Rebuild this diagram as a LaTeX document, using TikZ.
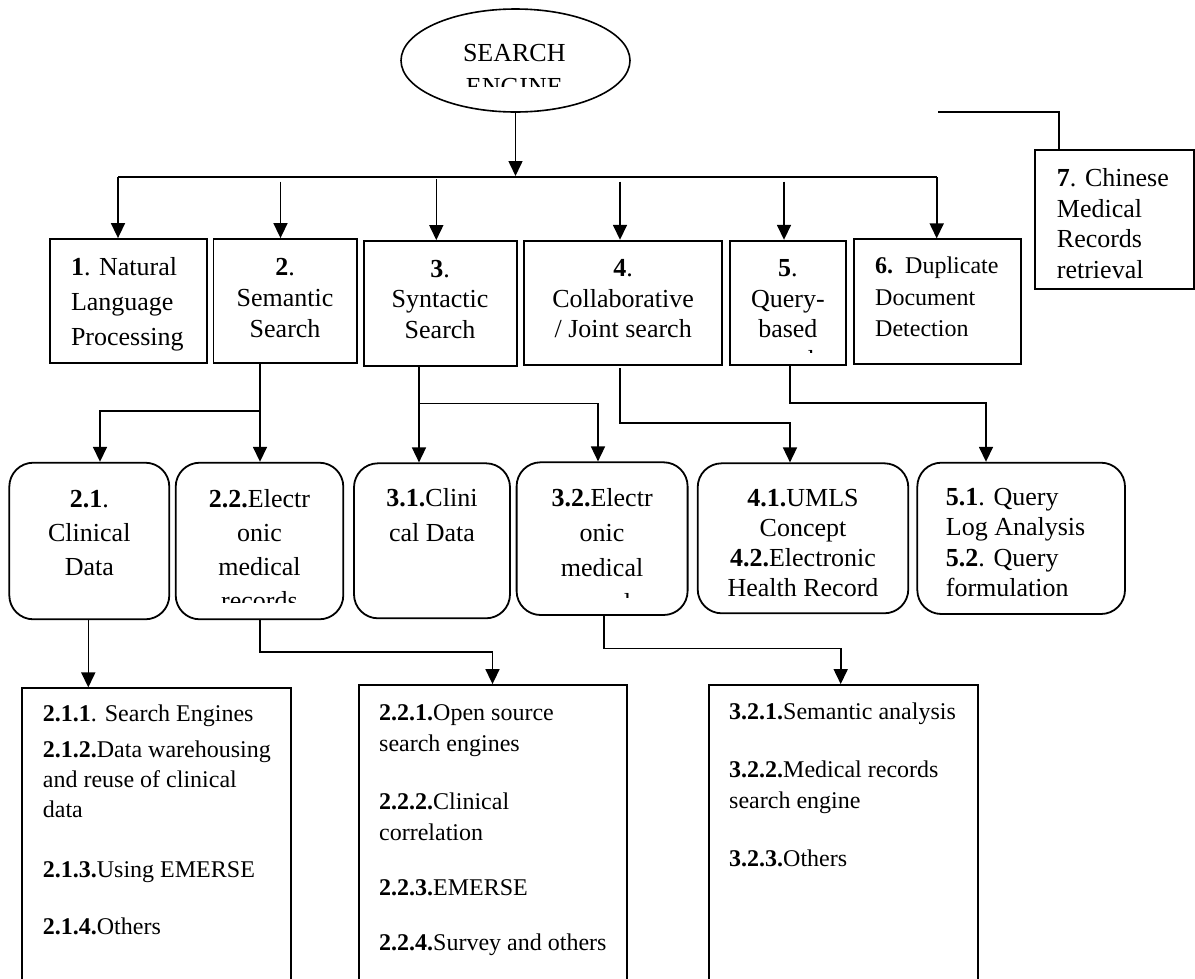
\documentclass[tikz,border=0pt]{standalone}
\usepackage{fontspec}
\setmainfont{Liberation Serif}
\usetikzlibrary{arrows.meta,shapes.geometric}
\newcommand\mycbox[1]{\parbox[t]{210pt}{\centering #1}}
\newcommand\mylbox[1]{\parbox[t]{280pt}{\raggedright #1}}
\begin{document}
\begin{tikzpicture}[x=1pt,y=-1pt,
  sq/.style={draw, line width=1.8pt, rectangle, inner sep=0pt},
  rnd/.style={draw, line width=1.8pt, rectangle, rounded corners=24pt, inner sep=0pt},
  conn/.style={line width=1.6pt},
  arr/.style={conn, -{Triangle[length=15pt,width=14pt]}},
  tx/.style={inner sep=0pt, font=\fontsize{26}{#1}\selectfont},
  txs/.style={inner sep=0pt, font=\fontsize{24}{#1}\selectfont}]
\fill[white] (0,0) rectangle (1195,978);
\useasboundingbox (0,0) rectangle (1195,978);

% ---------- top ellipse ----------
\node[draw, ellipse, line width=1.6pt, minimum width=229pt, minimum height=103pt, inner sep=0pt] (se) at (515.5,60.5) {};
\begin{scope}
\clip (401,0) rectangle (630,86);
\node[tx=34, anchor=base] (setxt) at (514.3,61.7) {\mycbox{SEARCH\\ENGINE}};
\end{scope}

% ---------- row 1 boxes ----------
\node[sq, minimum width=157pt, minimum height=124pt] (b1) at (128.5,301) {};
\node[sq, minimum width=143.2pt, minimum height=124pt] (b2) at (285.1,301) {};
\node[sq, minimum width=153pt, minimum height=125pt] (b3) at (440.1,303.5) {};
\node[sq, minimum width=198.3pt, minimum height=124.3pt] (b4) at (623.15,302.85) {};
\node[sq, minimum width=115.7pt, minimum height=124.3pt] (b5) at (787.85,302.85) {};
\node[sq, minimum width=166.7pt, minimum height=124.7pt] (b6) at (937.35,301.65) {};
\node[sq, minimum width=159pt, minimum height=139pt] (b7) at (1114.5,219.5) {};

\node[tx=35, anchor=base west] (t1) at (70.8,275) {\mylbox{\textbf{1}. Natural\\Language\\Processing}};
\node[tx=31, anchor=base] (t2) at (285.1,275) {\mycbox{\textbf{2}.\\Semantic\\Search}};
\node[tx=30.5, anchor=base] (t3) at (440.1,277.3) {\mycbox{\textbf{3}.\\Syntactic\\Search}};
\node[tx=30.5, anchor=base] (t4) at (623.15,276.7) {\mycbox{\textbf{4}.\\Collaborative\\/ Joint search}};
\begin{scope}
\clip (731,241) rectangle (845,352.5);
\node[tx=30.5, anchor=base] (t5) at (787.85,276.7) {\mycbox{\textbf{5}.\\Query-\\based\\search}};
\end{scope}
\node[txs=31.7, anchor=base west] (t6) at (875,273.3) {\mylbox{\textbf{6.}\ \ Duplicate\\Document\\Detection}};
\node[tx=30.5, anchor=base west] (t7) at (1056.7,186.7) {\mylbox{\textbf{7}. Chinese\\Medical\\Records\\retrieval}};

% ---------- row 1 connectors ----------
\coordinate (trunk) at (515.5,176);
\coordinate (h1) at (118,177);
\coordinate (h6) at (936.7,177);
\draw[arr] (se.south) -- (trunk);
\draw[conn] (h1) -- (h6);
\draw[arr] (h1) -- (h1 |- b1.north);
\coordinate (a2) at (280.5,181.7);
\coordinate (a3) at (436.3,179.3);
\coordinate (a4) at (620,181.7);
\coordinate (a5) at (784,181.7);
\draw[arr] (a2) -- (a2 |- b2.north);
\draw[arr] (a3) -- (a3 |- b3.north);
\draw[arr] (a4) -- (a4 |- b4.north);
\draw[arr] (a5) -- (a5 |- b5.north);
\draw[arr] (h6) -- (h6 |- b6.north);
\coordinate (s7) at (938.3,111.7);
\coordinate (k7) at (1059,111.7);
\draw[conn] (s7) -- (k7) -- (k7 |- b7.north);

% ---------- row 2 boxes ----------
\node[rnd, minimum width=160pt, minimum height=156.6pt] (r21) at (89.3,541) {};
\node[rnd, minimum width=167.6pt, minimum height=156.6pt] (r22) at (259.5,541) {};
\node[rnd, minimum width=156pt, minimum height=155pt] (r31) at (432,540.8) {};
\node[rnd, minimum width=171pt, minimum height=152.7pt] (r32) at (602.1,538.65) {};
\node[rnd, minimum width=210.6pt, minimum height=150pt] (r41) at (803,538.3) {};
\node[rnd, minimum width=207.7pt, minimum height=151.3pt] (r51) at (1021.15,538.35) {};

\node[tx=34, anchor=base] (t21) at (89.3,507.7) {\mycbox{\textbf{2.1}.\\Clinical\\Data}};
\begin{scope}
\clip (180,470) rectangle (340,602);
\node[tx=34, anchor=base] (t22) at (259.5,507.7) {\mycbox{\textbf{2.2.}Electr\\onic\\medical\\records}};
\end{scope}
\node[tx=35, anchor=base] (t31) at (432,506.7) {\mycbox{\textbf{3.1.}Clini\\cal Data}};
\begin{scope}
\clip (520,470) rectangle (684,597);
\node[tx=35, anchor=base] (t32) at (602.1,506) {\mycbox{\textbf{3.2.}Electr\\onic\\medical\\records}};
\end{scope}
\begin{scope}
\clip (700,470) rectangle (905,597.5);
\node[tx=30.2, anchor=base] (t41) at (803,506) {\mycbox{\textbf{4.1.}UMLS\\Concept\\\textbf{4.2.}Electronic\\Health Record}};
\end{scope}
\begin{scope}
\clip (920,470) rectangle (1122,597);
\node[tx=30.5, anchor=base west] (t51) at (945.7,505) {\mylbox{\textbf{5.1}. Query\\Log Analysis\\\textbf{5.2}. Query\\formulation}};
\end{scope}

% ---------- row 2 connectors ----------
\coordinate (k2) at (260,410.7);
\coordinate (k21) at (100,410.7);
\draw[arr] (b2.south -| k2) -- (r22.north -| k2);
\draw[arr] (k2) -- (k21) -- (k21 |- r21.north);
\coordinate (k3) at (419,403.3);
\coordinate (k32) at (598,403.3);
\draw[arr] (b3.south -| k3) -- (r31.north -| k3);
\draw[arr] (k3) -- (k32) -- (k32 |- r32.north);
\coordinate (s4) at (620,368);
\coordinate (k4) at (620,423);
\coordinate (k41) at (790,423);
\draw[arr] (s4) -- (k4) -- (k41) -- (k41 |- r41.north);
\coordinate (k5) at (790,403);
\coordinate (k51) at (986,403);
\draw[arr] (b5.south -| k5) -- (k5) -- (k51) -- (k51 |- r51.north);

% ---------- bottom boxes ----------
\node[sq, minimum width=269.3pt, minimum height=311.7pt] (c1) at (156.35,844.15) {};
\node[sq, minimum width=268.2pt, minimum height=315pt] (c2) at (492.7,842.5) {};
\node[sq, minimum width=269.4pt, minimum height=315pt] (c3) at (843.3,842.5) {};

\node[txs=30, anchor=base west] (tc1) at (42.7,721) {\mylbox{\textbf{2.1.1}. Search Engines\\[6pt]\textbf{2.1.2.}Data warehousing\\and reuse of clinical\\data\\[30pt]\textbf{2.1.3.}Using EMERSE\\[27pt]\textbf{2.1.4.}Others}};
\node[txs=31, anchor=base west] (tc2) at (379,720) {\mylbox{\textbf{2.2.1.}Open source\\search engines\\[27pt]\textbf{2.2.2.}Clinical\\correlation\\[24pt]\textbf{2.2.3.}EMERSE\\[24pt]\textbf{2.2.4.}Survey and others}};
\node[txs=31, anchor=base west] (tc3) at (729,719) {\mylbox{\textbf{3.2.1.}Semantic analysis\\[27pt]\textbf{3.2.2.}Medical records\\search engine\\[27pt]\textbf{3.2.3.}Others}};

% ---------- row 3 connectors ----------
\coordinate (m1) at (88.3,0);
\draw[arr] (r21.south -| m1) -- (c1.north -| m1);
\coordinate (m2) at (260,651.7);
\coordinate (m21) at (492.5,651.7);
\draw[arr] (r22.south -| m2) -- (m2) -- (m21) -- (m21 |- c2.north);
\coordinate (m3) at (603.7,648.3);
\coordinate (m31) at (840.7,648.3);
\draw[arr] (r32.south -| m3) -- (m3) -- (m31) -- (m31 |- c3.north);
\end{tikzpicture}
\end{document}
